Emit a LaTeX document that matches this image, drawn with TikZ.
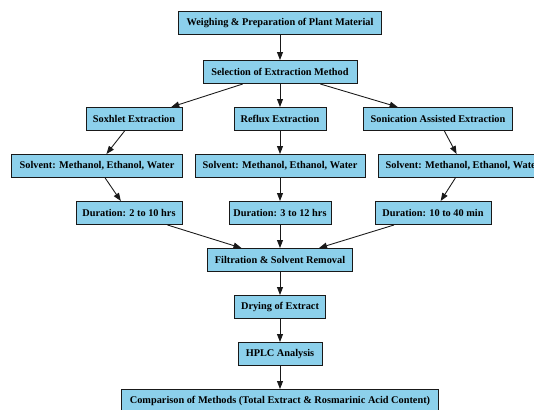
\documentclass[tikz,border=0pt]{standalone}
\usepackage{fontspec}
\setmainfont{Liberation Serif}
\usetikzlibrary{positioning,arrows.meta}
\definecolor{boxblue}{RGB}{140,208,235}

\begin{document}
\begin{tikzpicture}[
    x=0.03cm, y=-0.03cm,
    box/.style={rectangle, draw=black!90, line width=0.85pt, fill=boxblue, minimum height=0.69cm, inner xsep=2pt, align=center, font=\rmfamily\fontsize{8.8}{10.5}\selectfont\bfseries},
    arrow/.style={-{Triangle[length=2.4mm, width=1.8mm]}, line width=0.75pt, black!90},
]
\useasboundingbox (0,0) rectangle (534,409);
\clip (0,0) rectangle (534,409);

% ====== Preparation ======
\node[box, minimum width=6.09cm] (mWeigh) at (280, 23) {Weighing \& Preparation of Plant Material};
\node[box, minimum width=4.62cm] (mSelect) at (280, 72) {Selection of Extraction Method};

% ====== Extraction methods ======
\node[box, minimum width=2.88cm] (eSox) at (134, 119) {Soxhlet Extraction};
\node[box, minimum width=2.76cm] (eRef) at (280, 119) {Reflux Extraction};
\node[box, minimum width=4.47cm] (eSon) at (438, 119) {Sonication Assisted Extraction};

\node[box, minimum width=5.1cm] (s1) at (97, 166) {Solvent: Methanol, Ethanol, Water};
\node[box, minimum width=5.1cm] (s2) at (280, 166) {Solvent: Methanol, Ethanol, Water};
\node[box, minimum width=5.1cm] (s3) at (463, 166) {Solvent: Methanol, Ethanol, Water};

\node[box, minimum width=3.18cm] (d1) at (129, 213) {Duration: 2 to 10 hrs};
\node[box, minimum width=3.06cm] (d2) at (280, 213) {Duration: 3 to 12 hrs};
\node[box, minimum width=3.48cm] (d3) at (433, 213) {Duration: 10 to 40 min};

% ====== Processing ======
\node[box, minimum width=4.35cm] (pFilt) at (280, 260) {Filtration \& Solvent Removal};
\node[box, minimum width=2.73cm] (pDry) at (280, 307) {Drying of Extract};
\node[box, minimum width=2.52cm] (pHplc) at (280, 354) {HPLC Analysis};
\node[box, minimum width=9.51cm] (pComp) at (280, 401) {Comparison of Methods (Total Extract \& Rosmarinic Acid Content)};

% ====== Arrows ======
\draw[arrow] (mWeigh) -- (mSelect);
\draw[arrow] (mSelect) -- (eSox);
\draw[arrow] (mSelect) -- (eRef);
\draw[arrow] (mSelect) -- (eSon);
\draw[arrow] (eSox) -- (s1);
\draw[arrow] (eRef) -- (s2);
\draw[arrow] (eSon) -- (s3);
\draw[arrow] (s1) -- (d1);
\draw[arrow] (s2) -- (d2);
\draw[arrow] (s3) -- (d3);
\draw[arrow] (d1) -- (pFilt);
\draw[arrow] (d2) -- (pFilt);
\draw[arrow] (d3) -- (pFilt);
\draw[arrow] (pFilt) -- (pDry);
\draw[arrow] (pDry) -- (pHplc);
\draw[arrow] (pHplc) -- (pComp);

\end{tikzpicture}
\end{document}
